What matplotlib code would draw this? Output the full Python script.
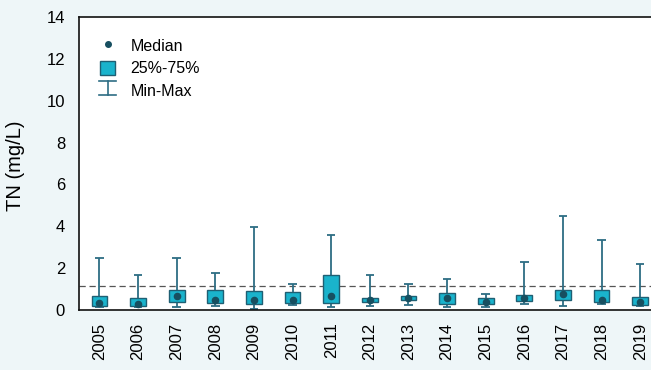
import matplotlib
matplotlib.use("Agg")
import matplotlib.pyplot as plt
from matplotlib.lines import Line2D
from matplotlib.patches import Patch
from matplotlib.legend_handler import HandlerBase
import numpy as np

years = [str(y) for y in range(2005, 2020)]
v_min = [0.13, 0.16, 0.14, 0.19, 0.05, 0.22, 0.13, 0.19, 0.25, 0.16, 0.16, 0.29, 0.19, 0.30, 0.21]
q1 =    [0.21, 0.21, 0.38, 0.33, 0.27, 0.32, 0.35, 0.38, 0.49, 0.27, 0.27, 0.43, 0.46, 0.38, 0.24]
med =   [0.35, 0.27, 0.65, 0.46, 0.46, 0.46, 0.65, 0.46, 0.57, 0.57, 0.38, 0.57, 0.76, 0.46, 0.38]
q3 =    [0.65, 0.57, 0.97, 0.96, 0.92, 0.86, 1.66, 0.57, 0.65, 0.83, 0.57, 0.70, 0.97, 0.96, 0.62]
v_max = [2.47, 1.67, 2.47, 1.77, 3.97, 1.26, 3.58, 1.67, 1.26, 1.48, 0.76, 2.28, 4.48, 3.36, 2.21]
threshold = 1.16

face = "#1ab3cc"
edge = "#1f5f73"
whisk = "#2d6d84"
dotc = "#174f60"
bg = "#eef6f8"

plt.rcParams['font.family'] = ['Liberation Sans', 'DejaVu Sans']
fig = plt.figure(figsize=(6.51, 3.70), dpi=100, facecolor=bg)
ax = fig.add_axes([79/651, 60/370, 1.0 - 79/651 + 0.01, 293/370])
ax.set_facecolor("white")

x = np.arange(len(years))
bw = 0.41
cap = 0.11
for i in x:
    ax.vlines(i, v_min[i], v_max[i], color=whisk, lw=1.3, zorder=2)
    ax.hlines([v_min[i], v_max[i]], i - cap, i + cap, color=whisk, lw=1.3, zorder=2)
    ax.bar(i, q3[i] - q1[i], bottom=q1[i], width=bw, color=face, edgecolor=edge, lw=1.0, zorder=3)
ax.scatter(x, med, s=20, color=dotc, zorder=4)
ax.axhline(threshold, color="#555555", lw=0.9, ls=(0, (5, 3)), zorder=1)

ax.set_xlim(-0.53, 14.45)
ax.set_ylim(0, 14)
ax.set_yticks(range(0, 15, 2))
ax.set_xticks(x)
ax.set_xticklabels(years, rotation=90)
ax.tick_params(length=0, labelsize=12, pad=9)
ax.tick_params(axis='y', pad=10)
for s in ["left", "top", "bottom"]:
    ax.spines[s].set_color("#111111")
    ax.spines[s].set_linewidth(1.2)
ax.spines["right"].set_visible(False)
fig.text(16/651, 1 - 166/370, "TN (mg/L)", rotation=90, fontsize=14.5,
         ha="center", va="center")

class ErrHandler(HandlerBase):
    def create_artists(self, legend, orig, xd, yd, w, h, fontsize, trans):
        cx = xd + w / 2
        top = yd + h - 1
        bot = yd - 1
        l1 = Line2D([cx, cx], [bot, top], color=whisk, lw=1.2, transform=trans)
        l2 = Line2D([cx - 6, cx + 6], [top, top], color=whisk, lw=1.2, transform=trans)
        l3 = Line2D([cx - 6, cx + 6], [bot, bot], color=whisk, lw=1.2, transform=trans)
        return [l1, l2, l3]

h_med = Line2D([], [], marker='o', ls='', color=dotc, markersize=4)
h_box = Patch(facecolor=face, edgecolor=edge)
h_err = Line2D([], [])
leg = ax.legend([h_med, h_box, h_err], ["Median", "25%-75%", "Min-Max"],
                loc="upper left", bbox_to_anchor=(100/651, 1 - 38/370),
                bbox_transform=fig.transFigure, frameon=False,
                fontsize=11.5, handlelength=0.95, handleheight=1.05, handletextpad=0.95,
                labelspacing=0.42, borderaxespad=0, borderpad=0,
                handler_map={h_err: ErrHandler()})

fig.savefig("out.png", dpi=100, facecolor=bg)
